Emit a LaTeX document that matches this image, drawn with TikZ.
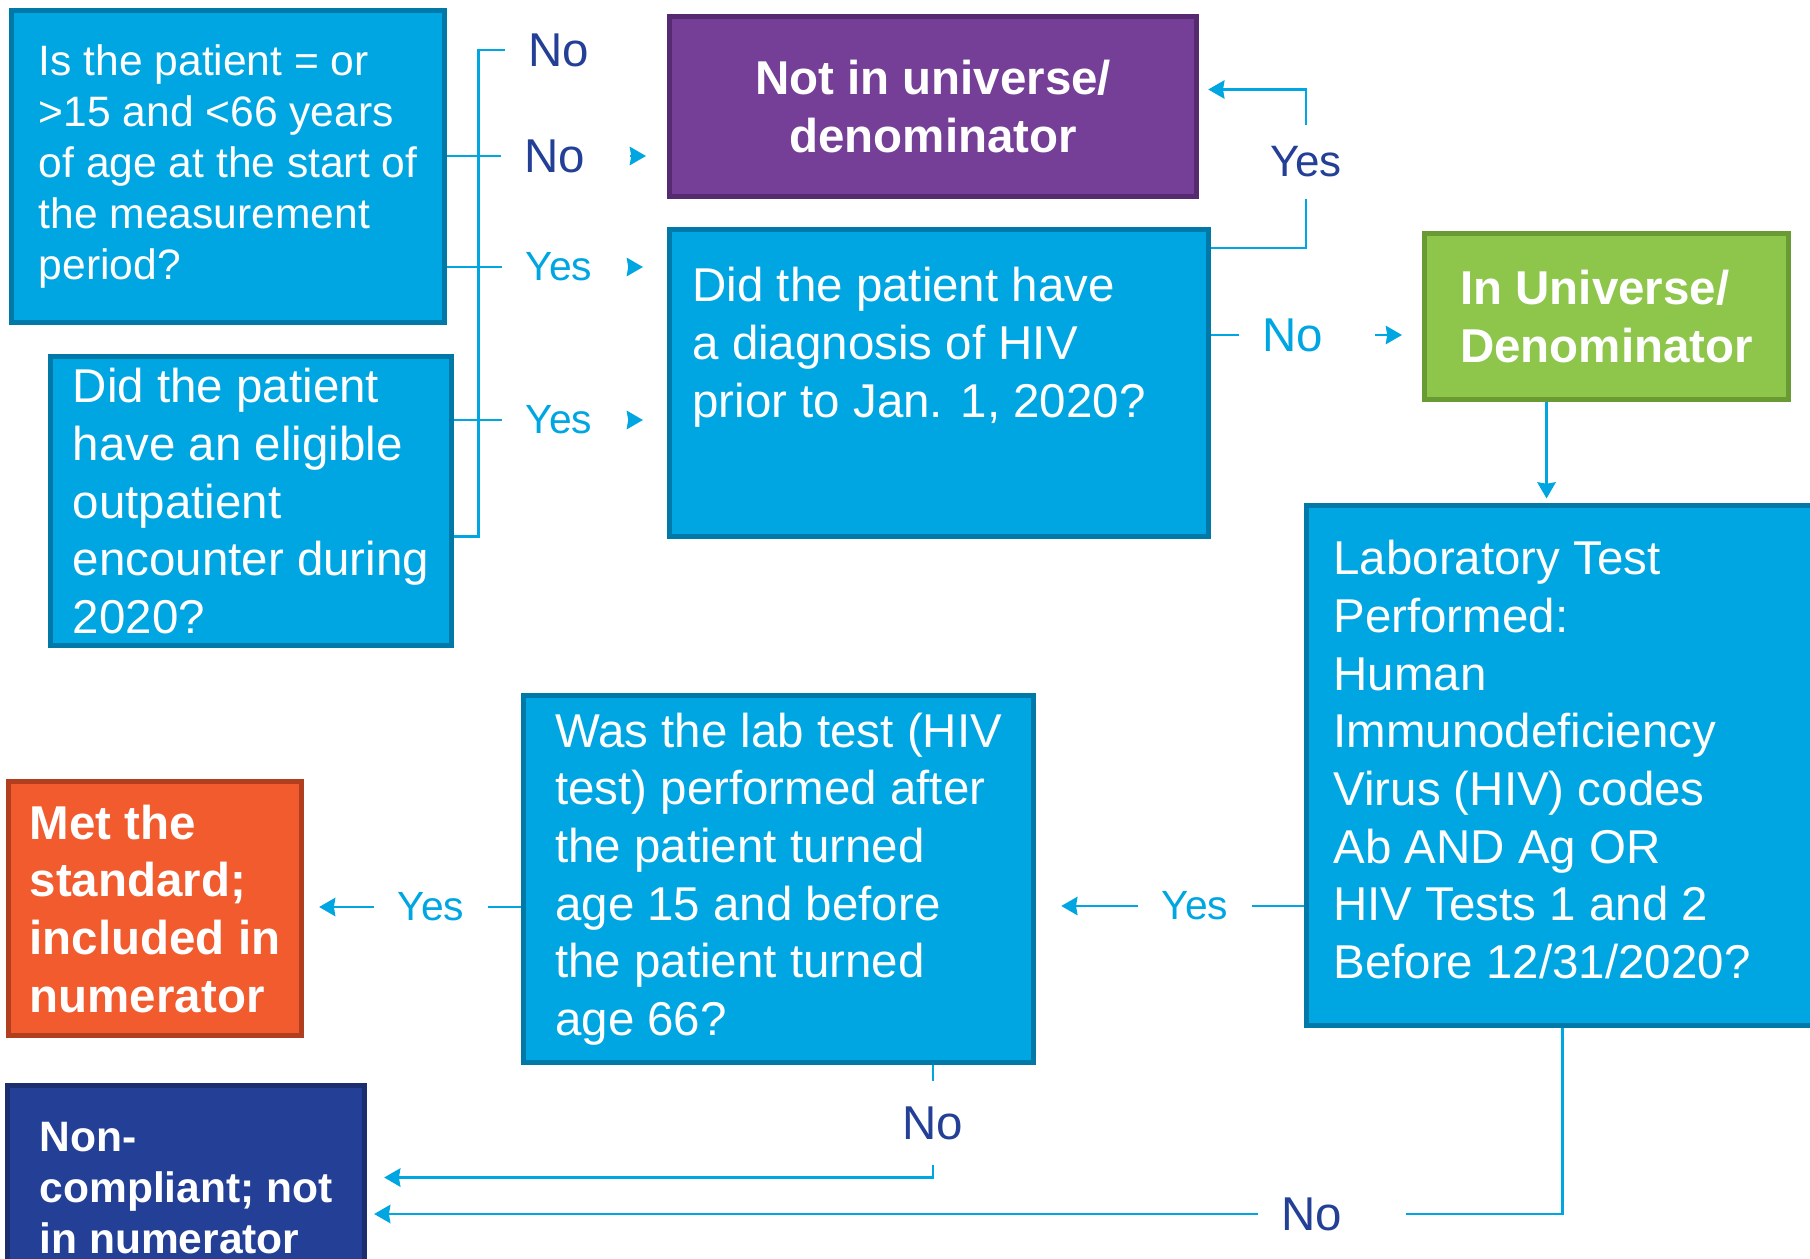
\documentclass[tikz,border=0pt]{standalone}
\usepackage{fontspec}
\setmainfont{Liberation Sans}
\usetikzlibrary{arrows.meta}
\definecolor{qblue}{RGB}{0 166 225}
\definecolor{qblueline}{RGB}{0 121 168}
\definecolor{nipurple}{RGB}{117 63 152}
\definecolor{nipurpleline}{RGB}{85 42 112}
\definecolor{ingreen}{RGB}{141 198 75}
\definecolor{ingreenline}{RGB}{106 154 51}
\definecolor{metorange}{RGB}{241 91 45}
\definecolor{metorangeline}{RGB}{177 63 31}
\definecolor{ncnavy}{RGB}{35 63 150}
\definecolor{ncnavyline}{RGB}{27 47 112}
\tikzstyle{question} = [rectangle, anchor=north west, draw=qblueline, fill=qblue, line width=1.4pt, text=white, align=left, font=\fontsize{13.5}{16.4}\selectfont]
\tikzstyle{outcome} = [rectangle, anchor=north west, line width=1.4pt, text=white, align=left, font=\bfseries\fontsize{13.5}{16.4}\selectfont]
\tikzstyle{conn} = [draw=qblue, line width=0.8pt]
\tikzstyle{arrow} = [conn, -{Stealth[length=4.6pt, width=5.2pt, inset=0.4pt]}]
\tikzstyle{lbl} = [inner xsep=0.23cm, inner ysep=0pt]
\tikzstyle{yeslbl} = [lbl, text=qblue, font=\fontsize{11.6}{13.5}\selectfont]
\tikzstyle{nolbl} = [lbl, text=ncnavy, font=\fontsize{13.5}{16}\selectfont]

\begin{document}
\begin{tikzpicture}[x=0.01cm, y=-0.01cm]
    \useasboundingbox (0,0) rectangle (1810,1258);
    \clip (0,0) rectangle (1810,1258);
    % boxes
    \node (q1) [question, minimum width=4.33cm, minimum height=3.12cm, font=\fontsize{12.1}{14.5}\selectfont] at (9,8) {Is the patient = or\\>15 and <66 years\\of age at the start of\\the measurement\\period?};
    \node (q2) [question, minimum width=4.01cm, minimum height=2.89cm] at (48,354) {Did the patient\\have an eligible\\outpatient\\encounter during\\2020?};
    \node (notin) [outcome, fill=nipurple, draw=nipurpleline, align=center, minimum width=5.27cm, minimum height=1.80cm] at (667,14) {Not in universe/\\denominator};
    \node (q3) [question, minimum width=5.39cm, minimum height=3.07cm] at (667,227) {\parbox[c][2.31cm][t]{4.93cm}{\raggedright Did the patient have\\a diagnosis of HIV\\prior to Jan. 1, 2020?}};
    \node (inuniv) [outcome, fill=ingreen, draw=ingreenline, minimum width=3.64cm, minimum height=1.66cm] at (1422,231) {In Universe/\\Denominator};
    \node (labtest) [question, minimum width=5.26cm, minimum height=5.20cm] at (1304,503) {\parbox[c][4.50cm][t]{4.72cm}{\raggedright Laboratory Test\\Performed:\\Human\\Immunodeficiency\\Virus (HIV) codes\\Ab AND Ag OR\\HIV Tests 1 and 2\\Before 12/31/2020?}};
    \node (labage) [question, minimum width=5.10cm, minimum height=3.67cm] at (521,693) {Was the lab test (HIV\\test) performed after\\the patient turned\\age 15 and before\\the patient turned\\age 66?};
    \node (met) [outcome, fill=metorange, draw=metorangeline, minimum width=2.93cm, minimum height=2.54cm] at (6,779) {Met the\\standard;\\included in\\numerator};
    \node (noncomp) [outcome, fill=ncnavy, draw=ncnavyline, minimum width=3.57cm, minimum height=2.05cm, font=\bfseries\fontsize{12.1}{14.5}\selectfont] at (5,1083) {Non-\\compliant; not\\in numerator};
    % labels
    \node (no1) [nolbl] at (559,50) {No};
    \node (no2) [nolbl] at (555,156) {No};
    \node (yes1) [yeslbl] at (559,267) {Yes};
    \node (yes2) [yeslbl] at (559,420) {Yes};
    \node (yes3) [lbl, text=ncnavy, font=\fontsize{12.5}{15}\selectfont, inner ysep=0.21cm] at (1306,162) {Yes};
    \node (no3) [nolbl, text=qblue] at (1293,335) {No};
    \node (yes4) [yeslbl] at (1195,906) {Yes};
    \node (yes5) [yeslbl] at (431,907) {Yes};
    \node (no4) [nolbl, inner ysep=0.25cm] at (933,1123) {No};
    \node (no5) [nolbl] at (1312,1214) {No};
    % age and encounter
    \draw[conn] (no1.west) -| ([xshift=0.24cm,yshift=-0.355cm]q2.east) -- ([yshift=-0.355cm]q2.east);
    \draw[conn] (q1.east |- no2) -- (no2.west);
    \draw[arrow] ([xshift=0.21cm]no2.east) -- ([xshift=-0.21cm]notin.west |- no2);
    \draw[conn] (q1.east |- yes1) -- (yes1.west);
    \draw[arrow] ([xshift=0.12cm]yes1.east) -- ([xshift=-0.24cm]q3.west |- yes1);
    \draw[conn] (q2.east |- yes2) -- (yes2.west);
    \draw[arrow] ([xshift=0.12cm]yes2.east) -- ([xshift=-0.24cm]q3.west |- yes2);
    % diagnosis
    \draw[conn] ([yshift=-0.21cm]q3.north east) -| (yes3.south);
    \draw[arrow] (yes3.north) |- ([xshift=0.09cm,yshift=0.17cm]notin.east);
    \draw[conn] (q3.east |- no3) -- (no3.west);
    \draw[arrow] ([xshift=0.28cm]no3.east) -- ([xshift=-0.2cm]inuniv.west |- no3);
    \draw[arrow] ([xshift=-0.6cm]inuniv.south) -- ([xshift=-0.6cm,yshift=0.045cm]inuniv.south |- labtest.north);
    % lab test
    \draw[conn] (labtest.west |- yes4) -- (yes4.east);
    \draw[arrow] (yes4.west) -- ([xshift=0.25cm]labage.east |- yes4);
    \draw[conn] ([xshift=-0.075cm]labtest.south) |- ([xshift=0.4cm]no5.east);
    \draw[arrow] (no5.west) -- ([xshift=0.07cm]noncomp.east |- no5);
    % lab age
    \draw[conn] (labage.west |- yes5) -- (yes5.east);
    \draw[arrow] (yes5.west) -- ([xshift=0.15cm]met.east |- yes5);
    \draw[conn] (labage.south -| no4) -- (no4.north);
    \draw[arrow] (no4.south) |- ([xshift=0.17cm,yshift=0.105cm]noncomp.east);
\end{tikzpicture}
\end{document}
